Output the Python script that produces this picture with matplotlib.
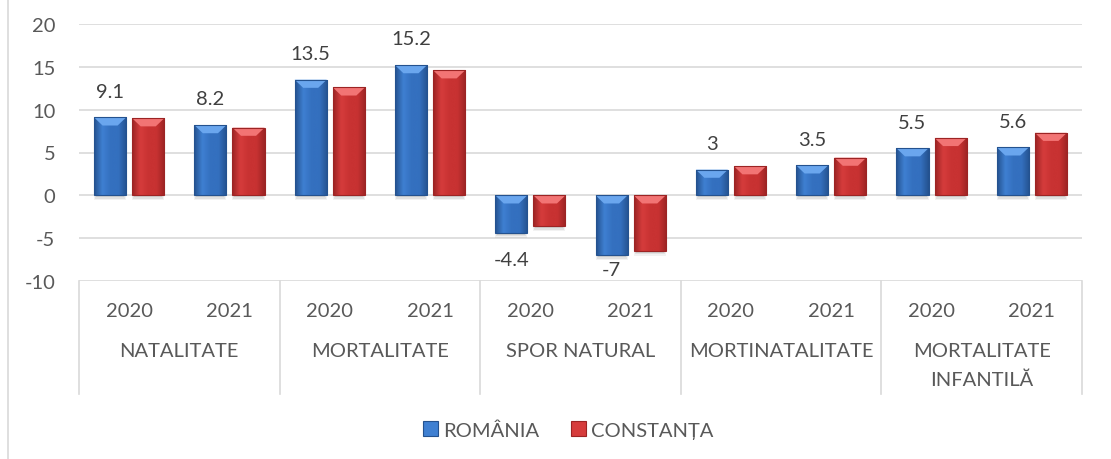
import numpy as np
import matplotlib
matplotlib.use("Agg")
from matplotlib import pyplot as plt
from matplotlib.patches import Polygon, Rectangle
from matplotlib.colors import LinearSegmentedColormap
from matplotlib.lines import Line2D

plt.rcParams['font.family'] = ['Lato', 'DejaVu Sans']
plt.rcParams['axes.unicode_minus'] = False

groups = ['NATALITATE', 'MORTALITATE', 'SPOR NATURAL', 'MORTINATALITATE', 'MORTALITATE\nINFANTILĂ']
years = ['2020', '2021']
romania = [9.1, 8.2, 13.5, 15.2, -4.4, -7, 3, 3.5, 5.5, 5.6]
constanta = [9.0, 7.9, 12.6, 14.6, -3.6, -6.5, 3.4, 4.4, 6.7, 7.3]
series_names = ['ROMÂNIA', 'CONSTANȚA']

txt = '#595959'
grid = '#d9d9d9'
fs = 14.5

W, H = 1111, 460
fig = plt.figure(figsize=(W / 100, H / 100), dpi=100)
ax = fig.add_axes([79 / W, 1 - 282 / H, (1082 - 79) / W, (282 - 25) / H])

x = np.arange(len(romania))
bw = 0.32
off = 0.19

styles = [
    # edge, mid, light, bevel
    ('#24528f', '#3470bf', '#3f80d2', '#6aa6ee'),
    ('#9c2424', '#c83232', '#d63c3c', '#f27474'),
]

def draw_bars(xs, vals, st):
    bars = ax.bar(xs, vals, bw, color=st[1], edgecolor='none', zorder=3)
    cmap = LinearSegmentedColormap.from_list('g', [st[0], st[2], st[1], st[1], st[0]])
    grad = np.linspace(0, 1, 64).reshape(1, -1)
    for b, v in zip(bars, vals):
        x0 = b.get_x()
        x1 = x0 + b.get_width()
        y0, y1 = sorted([0, v])
        # soft shadow under the bar
        for k, a in enumerate([0.10, 0.14, 0.2]):
            ax.add_patch(Rectangle((x0 + 0.01 * k, y0 - 0.55 + 0.15 * k), x1 - x0 - 0.02 * k,
                                   0.55, color='#808080', alpha=a, lw=0, zorder=2))
        im = ax.imshow(grad, extent=[x0, x1, y0, y1], aspect='auto', cmap=cmap,
                       zorder=3.5, interpolation='bicubic')
        im.set_clip_path(b)
        # bevel on top
        bh = min(0.95, (y1 - y0) * 0.4)
        ins = 0.085
        ax.add_patch(Polygon([[x0, y1], [x1, y1], [x1 - ins, y1 - bh], [x0 + ins, y1 - bh]],
                             closed=True, color=st[3], lw=0, zorder=4))
        ax.add_patch(Rectangle((x0, y0), x1 - x0, y1 - y0, fill=False, ec=st[0], lw=0.8, zorder=4.5))
    return bars

draw_bars(x - off, romania, styles[0])
draw_bars(x + off, constanta, styles[1])

for xi, v in zip(x, romania):
    ly = v + 3.05 if v >= 0 else max(v - 3.05, -8.65)
    ax.text(xi - off, ly, f'{v:g}', ha='center', va='center', fontsize=fs, color='#404040', zorder=5)

ax.set_xlim(-0.5, len(romania) - 0.5)
ax.set_ylim(-10, 20)
ax.set_yticks(np.arange(-10, 21, 5))
ax.yaxis.grid(True, color=grid, lw=1.2, zorder=0)
ax.set_axisbelow(True)
ax.tick_params(axis='y', length=0, pad=17, labelsize=fs, labelcolor=txt)
ax.set_xticks([])
for s in ax.spines.values():
    s.set_visible(False)

# category table under the plot
tb = -(395 - 282) / 257
for bx in np.arange(-0.5, len(romania), 2):
    ax.add_line(Line2D([bx, bx], [0, tb], transform=ax.get_xaxis_transform(),
                       color=grid, lw=1.2, clip_on=False))
for xi in x:
    ax.text(xi, -(317 - 282) / 257, years[xi % 2], transform=ax.get_xaxis_transform(),
            ha='center', va='baseline', fontsize=fs, color=txt)
for gi, g in enumerate(groups):
    for li, line in enumerate(g.split('\n')):
        ax.text(2 * gi + 0.5, -(357 - 282 + 29 * li) / 257, line, transform=ax.get_xaxis_transform(),
                ha='center', va='baseline', fontsize=fs, color=txt)

# chart frame, left side
fig.add_artist(Line2D([8 / W, 8 / W], [0, 1], color=grid, lw=1.2))

handles = [Rectangle((0, 0), 1, 1, fc=styles[i][2], ec=styles[i][0], lw=0.8) for i in range(2)]
fig.legend(handles, series_names, loc='center', bbox_to_anchor=(568 / W, 1 - 431 / H),
           ncol=2, frameon=False, fontsize=fs, labelcolor=txt, handlelength=0.75,
           handleheight=0.75, handletextpad=0.25, columnspacing=1.6)

fig.savefig('out.png', dpi=100)
